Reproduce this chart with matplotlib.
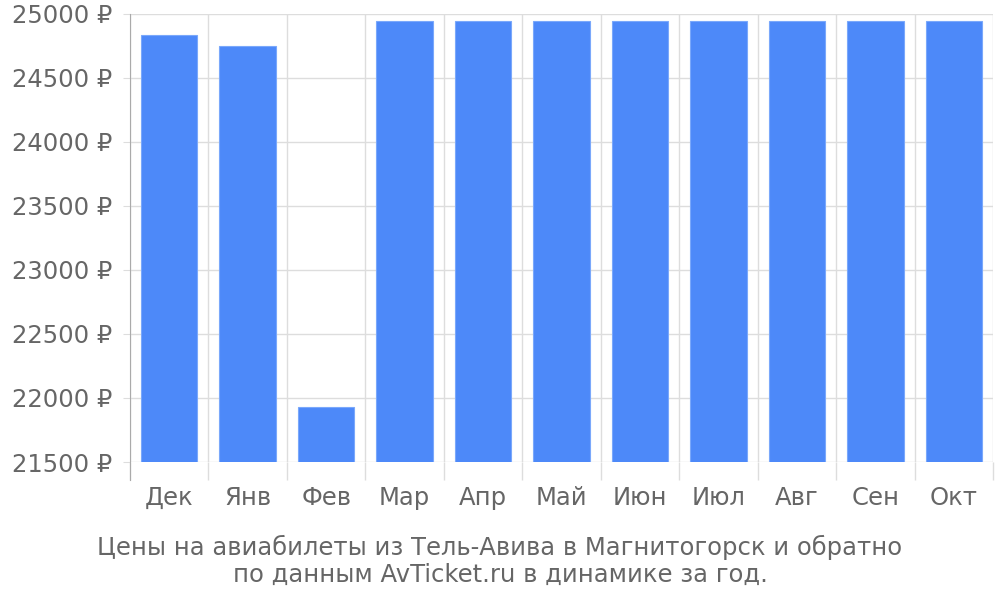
import matplotlib
matplotlib.use("Agg")
import matplotlib.pyplot as plt
import numpy as np

# Monthly prices (rubles)
months = ["Дек", "Янв", "Фев", "Мар", "Апр", "Май", "Июн", "Июл", "Авг", "Сен", "Окт"]
prices = [24836, 24750, 21930, 24943, 24943, 24943, 24943, 24943, 24943, 24943, 24943]
y_ticks = [21500, 22000, 22500, 23000, 23500, 24000, 24500, 25000]

text_color = "#666666"
grid_color = "#dddddd"
bar_color = "#4d89f9"
fs = 17.5

fig = plt.figure(figsize=(10, 6), dpi=100)
ax = fig.add_axes([0.130, 0.23, 0.863, 0.7467])

x = np.arange(len(months))
ax.bar(x, prices, width=0.72, color=bar_color, edgecolor="#7aa8fb", linewidth=0.8,
       zorder=3)

ax.set_xlim(-0.5, len(months) - 0.5)
ax.set_ylim(21500, 25000)

# category labels centered, boundary lines as minor ticks with grid
ax.set_xticks(x)
ax.set_xticklabels(months)
ax.set_xticks(np.arange(len(months) + 1) - 0.5, minor=True)
ax.tick_params(axis="x", which="major", length=0, pad=17, labelsize=fs, labelcolor=text_color)
ax.tick_params(axis="x", which="minor", length=13, color=grid_color, width=1)
ax.grid(axis="x", which="minor", color=grid_color, linewidth=1, zorder=0)

ax.set_yticks(y_ticks)
ax.set_yticklabels([f"{v} ₽" for v in y_ticks])
ax.tick_params(axis="y", length=5, color=grid_color, labelsize=fs, labelcolor=text_color, pad=8)
ax.grid(axis="y", color=grid_color, linewidth=1, zorder=0)

for s in ["top", "right", "bottom"]:
    ax.spines[s].set_visible(False)
ax.spines["left"].set_color("#aaaaaa")
ax.spines["left"].set_zorder(4)
ax.spines["left"].set_bounds(21360, 25000)

fig.text(0.5, 1 - 547 / 600, "Цены на авиабилеты из Тель-Авива в Магнитогорск и обратно",
         ha="center", va="center", fontsize=fs, color=text_color)
fig.text(0.5, 1 - 575 / 600, "по данным AvTicket.ru в динамике за год.",
         ha="center", va="center", fontsize=fs, color=text_color)

fig.savefig("out.png", dpi=100)
